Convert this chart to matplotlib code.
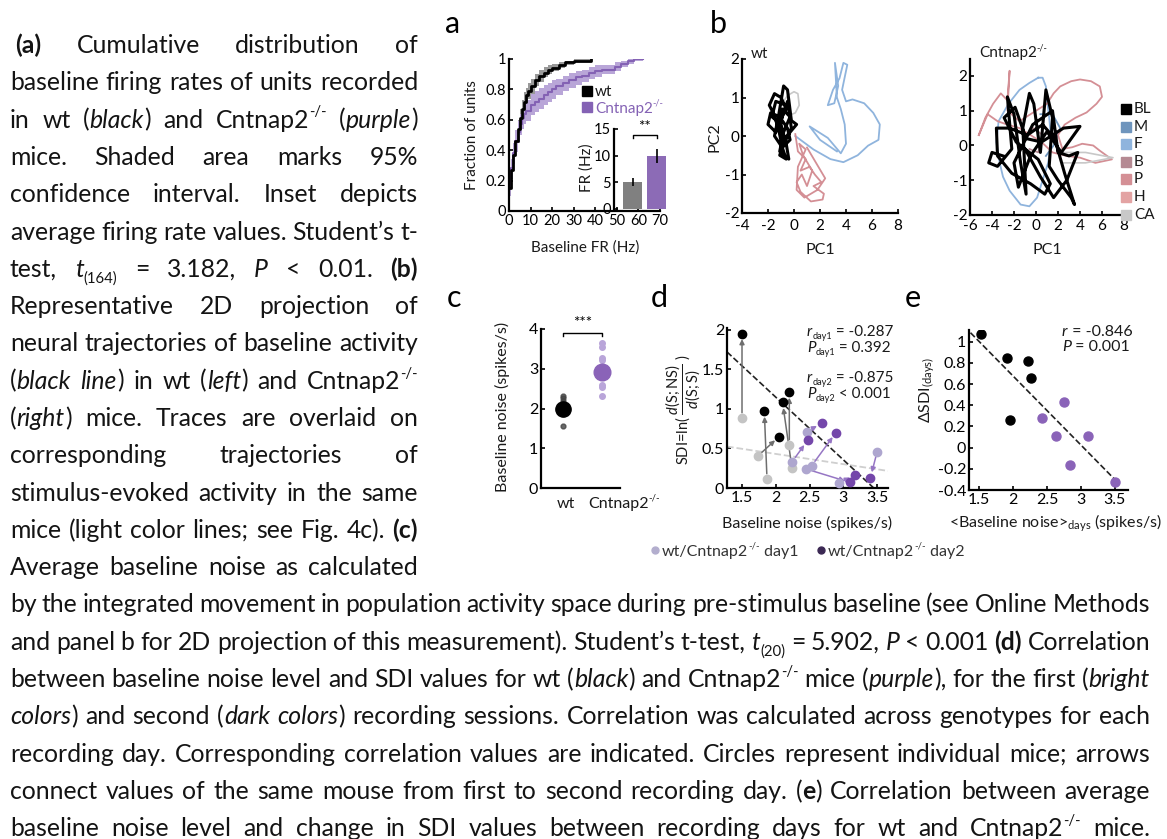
import re
import numpy as np
import matplotlib
matplotlib.use('Agg')
import matplotlib.pyplot as plt

plt.rcParams['font.family'] = ['Lato', 'DejaVu Sans']
plt.rcParams['axes.unicode_minus'] = False
plt.rcParams['mathtext.fontset'] = 'custom'
plt.rcParams['mathtext.rm'] = 'Lato'
plt.rcParams['mathtext.it'] = 'Lato:italic'
plt.rcParams['mathtext.bf'] = 'Lato:bold'

W, H = 1167, 839

#%% caption text (markup: {b:..} bold, {i:..} italic, {sup:..}, {sub:..})
col_lines = [
    "{b:(a)} Cumulative distribution of",
    "baseline firing rates of units recorded",
    "in wt ({i:black}) and Cntnap2{sup:-/-} ({i:purple})",
    "mice. Shaded area marks 95%",
    "confidence interval. Inset depicts",
    "average firing rate values. Student\u2019s t-",
    "test, {i:t}{sub:(164)} = 3.182, {i:P} < 0.01. {b:(b)}",
    "Representative 2D projection of",
    "neural trajectories of baseline activity",
    "({i:black line}) in wt ({i:left}) and Cntnap2{sup:-/-}",
    "({i:right}) mice. Traces are overlaid on",
    "corresponding trajectories of",
    "stimulus-evoked activity in the same",
    "mice (light color lines; see Fig. 4c). {b:(c)}",
    "Average baseline noise as calculated",
]
wide_lines = [
    "by the integrated movement in population activity space during pre-stimulus baseline (see Online Methods",
    "and panel b for 2D projection of this measurement). Student\u2019s t-test, {i:t}{sub:(20)} = 5.902, {i:P} < 0.001 {b:(d)} Correlation",
    "between baseline noise level and SDI values for wt ({i:black}) and Cntnap2{sup:-/-} mice ({i:purple}), for the first ({i:bright}",
    "{i:colors}) and second ({i:dark colors}) recording sessions. Correlation was calculated across genotypes for each",
    "recording day. Corresponding correlation values are indicated. Circles represent individual mice; arrows",
    "connect values of the same mouse from first to second recording day. ({b:e}) Correlation between average",
    "baseline noise level and change in SDI values between recording days for wt and Cntnap2{sup:-/-} mice.",
]

#%% panel a: cumulative distributions of baseline FR
wt_fr = [0, 1, 2, 3, 4, 5, 6, 7, 8, 9, 10, 12, 14, 16, 18, 20, 23, 26, 30, 34, 38]
wt_cdf = [0.15, 0.27, 0.37, 0.46, 0.54, 0.61, 0.67, 0.72, 0.76, 0.79, 0.82, 0.86, 0.89, 0.91, 0.93, 0.94, 0.96, 0.98, 0.99, 0.99, 1.0]
wt_lo = [0.10, 0.21, 0.31, 0.40, 0.48, 0.55, 0.61, 0.66, 0.71, 0.74, 0.77, 0.82, 0.85, 0.88, 0.90, 0.92, 0.94, 0.96, 0.98, 0.98, 0.99]
wt_hi = [0.20, 0.33, 0.43, 0.52, 0.60, 0.67, 0.73, 0.78, 0.81, 0.84, 0.87, 0.90, 0.93, 0.95, 0.96, 0.97, 0.98, 0.99, 1.0, 1.0, 1.0]
ko_fr = [0, 1, 2, 3, 4, 5, 6, 7, 8, 10, 12, 14, 16, 18, 20, 22, 25, 28, 31, 34, 37, 40, 43, 46, 49, 52, 55, 58, 62]
ko_cdf = [0.15, 0.28, 0.38, 0.46, 0.52, 0.57, 0.61, 0.64, 0.66, 0.70, 0.72, 0.74, 0.76, 0.78, 0.80, 0.82, 0.84, 0.86, 0.88, 0.89, 0.91, 0.92, 0.93, 0.93, 0.95, 0.97, 0.99, 1.0, 1.0]
ko_lo = [0.10, 0.22, 0.31, 0.39, 0.45, 0.50, 0.54, 0.57, 0.59, 0.63, 0.65, 0.67, 0.70, 0.72, 0.74, 0.76, 0.79, 0.81, 0.83, 0.85, 0.87, 0.88, 0.90, 0.90, 0.92, 0.95, 0.97, 0.99, 0.99]
ko_hi = [0.20, 0.34, 0.45, 0.53, 0.59, 0.64, 0.68, 0.71, 0.73, 0.77, 0.79, 0.81, 0.83, 0.84, 0.86, 0.87, 0.89, 0.91, 0.92, 0.93, 0.95, 0.96, 0.96, 0.96, 0.98, 0.99, 1.0, 1.0, 1.0]
fr_mean = [5.1, 10.0]
fr_err = [0.8, 1.3]

#%% panel b: 2D trajectories (PC1, PC2)
wt_bl = [(-1.2, 0.2), (-1.6, 0.6), (-1.9, 0.8), (-1.5, 1.1), (-1.0, 1.0), (-0.6, 0.7), (-1.1, 0.5), (-1.8, 0.6),
         (-2.0, 0.3), (-1.4, 0.1), (-0.9, 0.4), (-0.5, 0.2), (-0.3, -0.1), (-0.9, -0.3), (-1.5, 0.0), (-1.2, 0.5),
         (-0.8, 1.3), (-0.5, 1.2), (-0.2, 0.4), (0.2, 0.3), (-0.3, 0.1), (-0.8, -0.2), (-1.1, -0.5), (-0.6, -0.6),
         (-0.9, -0.3), (-1.2, 0.2), (-0.8, 0.6), (-0.5, 0.9), (-0.2, 0.2), (-0.7, -0.1), (-1.1, 0.3), (-0.6, 0.8),
         (-1.4, 0.9), (-1.7, 0.5), (-1.0, 0.3), (-0.6, -0.2), (-0.4, -0.6), (-1.1, -0.4), (-0.8, 0.1), (-0.3, 0.5),
         (-0.9, 0.7), (-1.3, 0.4)]
wt_ca = [(-0.9, 0.85), (-0.5, 1.05), (0.0, 1.15), (0.3, 1.1), (0.4, 0.8), (0.1, 0.6), (-0.3, 0.55)]
wt_f = [(0.1, 0.0), (1.5, -0.35), (2.8, -0.6), (3.8, -0.68), (4.9, -0.5), (5.7, -0.25), (6.5, -0.1), (6.6, 0.3),
        (6.1, 0.6), (5.4, 0.85), (4.5, 0.95), (4.0, 0.9), (3.7, 1.2), (4.1, 1.85), (3.8, 1.9), (3.5, 1.5),
        (3.0, 1.2), (2.6, 0.8), (3.1, 0.85), (3.4, 1.3), (3.15, 1.9), (3.3, 1.0), (3.6, 0.7), (3.9, 0.3),
        (4.0, -0.2), (3.6, -0.45), (2.6, -0.05), (1.2, 0.25), (2.0, -0.1), (3.3, -0.4)]
wt_p = [(0.1, 0.05), (0.3, -0.4), (0.9, -0.6), (0.5, -0.9), (1.2, -0.8), (1.6, -1.0), (2.1, -1.2), (1.5, -1.3),
        (2.3, -1.5), (2.2, -1.65), (1.3, -1.7), (0.5, -1.45), (0.2, -1.2), (0.6, -1.0), (1.0, -1.3), (1.4, -0.9),
        (0.7, -0.5), (0.4, -0.2), (0.9, -0.35), (0.3, -0.8), (0.2, -1.4), (0.8, -1.6), (1.8, -1.4), (2.4, -1.1),
        (1.7, -0.7), (1.0, -0.3)]
ko_bl = [(-3.0, -0.3), (-4.0, -0.2), (-4.3, -0.5), (-3.5, -0.6), (-2.2, -0.1), (-2.6, 1.4), (-2.0, 0.9), (-1.4, -0.5),
         (-0.9, -1.4), (-1.2, 0.5), (-0.6, 1.5), (-0.2, 1.2), (0.4, -0.2), (0.9, 1.6), (1.5, 0.8), (1.2, -0.6),
         (2.0, -1.0), (3.2, -1.5), (3.5, -1.7), (2.6, -0.8), (1.7, 0.2), (0.6, 0.6), (-0.8, 0.3), (-2.4, 0.5),
         (-3.6, 0.5), (-3.5, -0.3), (-2.2, -0.8), (-0.5, -1.1), (0.8, -1.4), (1.3, -1.1), (0.2, -0.4), (-1.8, 0.1),
         (-2.9, 0.8), (-1.9, 1.1), (-0.9, 0.2), (0.5, 0.1), (2.5, 0.5), (4.0, 0.55), (2.3, -0.2), (1.0, 0.4),
         (-0.5, -0.3), (-1.6, -1.2), (-2.0, -0.5), (-0.3, 0.6), (1.5, 1.0), (2.0, -0.2), (3.0, -0.3), (3.8, -0.2),
         (2.8, -1.0), (1.6, -1.5), (0.4, -0.9), (-1.0, -0.1)]
ko_f = [(0.2, 1.95), (-0.6, 1.8), (-1.5, 1.6), (-2.5, 1.2), (-3.4, 0.7), (-3.6, 0.1), (-3.3, -0.5), (-3.0, -0.9),
        (-2.4, -1.3), (-1.4, -1.7), (-0.6, -1.75), (0.1, -1.5), (0.5, -1.1), (1.1, -0.5), (1.4, 0.1), (1.2, 0.8),
        (1.0, 1.3), (0.9, 1.7), (0.6, 1.95), (0.2, 1.95)]
ko_m = [(0.4, 0.9), (1.5, 0.9), (2.2, 0.5), (1.6, 0.0), (0.9, -0.3)]
ko_p = [(-5.2, 0.3), (-4.6, 0.8), (-3.9, 1.2), (-3.2, 1.5), (-2.6, 1.3), (-2.4, 2.15), (-2.6, 1.0), (-1.5, 0.7),
        (-0.5, 0.9), (0.5, 1.1), (1.0, 1.2), (1.6, 1.5), (2.2, 1.7), (3.2, 1.85), (4.0, 1.9), (5.0, 1.85),
        (5.8, 1.7), (6.0, 1.4), (5.5, 1.2), (4.6, 0.95), (3.6, 0.8), (2.6, 0.6), (2.0, 0.3), (2.4, -0.1),
        (3.3, -0.05), (4.2, 0.05), (5.2, 0.0), (5.8, -0.15), (6.9, -0.4), (5.4, -0.5), (4.0, -0.35), (2.8, -0.3),
        (1.5, -0.2), (0.5, 0.1), (-0.5, 0.3), (-1.5, 0.5), (-2.6, 0.6), (-3.5, 0.7), (-4.4, 0.9), (-5.2, 0.3)]
ko_b = [(-1.0, 0.2), (-0.2, 0.5), (0.6, 0.3), (0.2, -0.2), (-0.6, -0.1)]
ko_ca = [(2.0, -0.2), (4.5, -0.2), (7.0, -0.35), (4.5, -0.5), (2.5, -0.5)]
traj_labels = ['BL', 'M', 'F', 'B', 'P', 'H', 'CA']
traj_colors = ['black', '#6f95bd', '#8fb4dd', '#b58a93', '#d48f95', '#e3a3a3', '#c8c8c8']

#%% panel c: baseline noise per mouse
c_wt_dots = [2.32, 2.27, 2.2, 2.1, 1.98, 1.9, 1.55]
c_ko_dots = [3.65, 3.55, 3.28, 3.22, 2.95, 2.6, 2.55, 2.32]
c_mean = [1.98, 2.92]
c_sem = [0.12, 0.14]

#%% panel d: SDI vs baseline noise, day1 -> day2
wt_d1_x = [1.50, 1.73, 1.87, 2.24, 2.20]
wt_d1_y = [0.88, 0.40, 0.11, 0.25, 0.54]
wt_d2_x = [1.50, 2.05, 1.83, 2.10, 2.20]
wt_d2_y = [1.95, 0.65, 0.97, 1.08, 1.21]
ko_d1_x = [2.24, 2.46, 2.53, 2.45, 2.93, 3.50]
ko_d1_y = [0.33, 0.71, 0.28, 0.24, 0.06, 0.46]
ko_d2_x = [2.47, 2.68, 2.89, 3.10, 3.17, 3.40]
ko_d2_y = [0.60, 0.82, 0.70, 0.07, 0.165, 0.13]

#%% panel e: change in SDI vs mean noise
e_wt_x = [1.52, 1.91, 2.22, 2.26, 1.95]
e_wt_y = [1.07, 0.85, 0.82, 0.66, 0.26]
e_ko_x = [2.42, 2.63, 2.75, 2.84, 3.10, 3.50]
e_ko_y = [0.28, 0.11, 0.43, -0.16, 0.11, -0.32]

PURPLE = '#8462b4'
TEXT_C = '#141414'
BODY_PT = 17.8

#%% figure
fig = plt.figure(figsize=(W / 100, H / 100), dpi=100)
rend = fig.canvas.get_renderer()
ov = fig.add_axes([0, 0, 1, 1], zorder=10)
ov.set_xlim(0, W)
ov.set_ylim(H, 0)
ov.axis('off')


def px_axes(x0, y0, x1, y1, lsize=11):
    ax = fig.add_axes([x0 / W, 1 - y1 / H, (x1 - x0) / W, (y1 - y0) / H])
    ax.patch.set_alpha(0)
    for s in ['top', 'right']:
        ax.spines[s].set_visible(False)
    for s in ['left', 'bottom']:
        ax.spines[s].set_linewidth(1.6)
    ax.tick_params(direction='in', length=3, width=1.2, labelsize=lsize, pad=2)
    return ax


def lab(x, y, s, size=11, rot=0, **kw):
    ov.text(x, y, s, fontsize=size, rotation=rot, ha=kw.pop('ha', 'center'), va=kw.pop('va', 'center'),
            rotation_mode='anchor', color=kw.pop('color', '#1a1a1a'), **kw)


TOKEN = re.compile(r'\{(\w+):([^}]*)\}')


def parse_segs(line):
    segs = []
    pos = 0
    for m in TOKEN.finditer(line):
        if m.start() > pos:
            segs.append((line[pos:m.start()], 'n'))
        segs.append((m.group(2), m.group(1)))
        pos = m.end()
    if pos < len(line):
        segs.append((line[pos:], 'n'))
    return segs


def parse(line):
    words = [[]]
    for txt, st in parse_segs(line):
        for k, p in enumerate(txt.split(' ')):
            if k > 0:
                words.append([])
            if p:
                words[-1].append((p, st))
    return [w for w in words if w]


def seg_art(s, st, yb, size, color):
    kw = dict(fontsize=size, color=color, va='baseline', ha='left')
    dy = 0.0
    if st == 'b':
        kw['fontweight'] = 'bold'
    if st == 'i':
        kw['fontstyle'] = 'italic'
    if st == 'sup':
        kw['fontsize'] = size * 0.6
        dy = -size * 0.45
    if st == 'sub':
        kw['fontsize'] = size * 0.6
        dy = size * 0.22
    t = ov.text(0, yb + dy * 100 / 72, s, **kw)
    return t, t.get_window_extent(rend).width


def draw_line(line, x0, x1, yb, size=BODY_PT):
    placed = []
    total = 0.0
    for w in parse(line):
        parts = []
        wx = 0.0
        for s, st in w:
            t, wd = seg_art(s, st, yb, size, TEXT_C)
            parts.append((t, wx))
            wx += wd
        placed.append((parts, wx))
        total += wx
    gap = (x1 - x0 - total) / max(len(placed) - 1, 1)
    x = x0
    for parts, wx in placed:
        for t, off in parts:
            t.set_x(x + off)
        x += wx + gap


def rich(x, yc, text, size=11, ha='left', color='#1a1a1a'):
    # short label with super/subscripts, yc = vertical centre of capitals
    yb = yc + 0.36 * size * 100 / 72
    parts = []
    wx = 0.0
    for s, st in parse_segs(text):
        t, wd = seg_art(s, st, yb, size, color)
        parts.append((t, wx))
        wx += wd
    x0 = x - wx / 2 if ha == 'center' else x
    for t, off in parts:
        t.set_x(x0 + off)


for i, line in enumerate(col_lines):
    draw_line(line, 15 if i == 0 else 10, 418, 53 + 37.3 * i)
for k, line in enumerate(wide_lines):
    draw_line(line, 10, 1150, 53 + 37.3 * (15 + k))

# panel letters
for letter, x, y in [('a', 445, 33), ('b', 710, 33), ('c', 447, 307), ('d', 651, 307), ('e', 905, 307)]:
    ov.text(x, y, letter, fontsize=22, ha='left', va='baseline', color='black')

#%% panel a
ax = px_axes(509, 59, 660, 211, lsize=10.5)
ax.fill_between(wt_fr, wt_lo, wt_hi, step='post', color='#999999', lw=0)
ax.fill_between(ko_fr, ko_lo, ko_hi, step='post', color='#b9a6d8', lw=0)
ax.plot(ko_fr, ko_cdf, drawstyle='steps-post', color=PURPLE, lw=1.5)
ax.plot(wt_fr, wt_cdf, drawstyle='steps-post', color='black', lw=2)
ax.set_xlim(0, 70)
ax.set_ylim(0, 1)
ax.set_xticks(range(0, 71, 10))
ax.set_yticks([0, 0.2, 0.4, 0.6, 0.8, 1])
ax.set_yticklabels(['0', '0.2', '0.4', '0.6', '0.8', '1'])
lab(472, 135, 'Fraction of units', size=11, rot=90)
lab(585, 248, 'Baseline FR (Hz)', size=11)
ov.plot([587], [91], 's', ms=6.5, color='black')
rich(595, 91, 'wt', size=11)
ov.plot([587], [107], 's', ms=6.5, color=PURPLE)
rich(595, 107, 'Cntnap2{sup:-/-}', size=11, color=PURPLE)

ins = px_axes(614, 129, 670, 209, lsize=10.5)
ins.spines['bottom'].set_visible(False)
ins.bar([1, 2], fr_mean, width=0.8, color=['#808080', '#8c6bb6'])
ins.errorbar([1, 2], fr_mean, yerr=fr_err, fmt='none', ecolor='black', elinewidth=1.2, capsize=0)
ins.set_xlim(0.23, 2.56)
ins.set_ylim(0, 15)
ins.set_xticks([])
ins.set_yticks([0, 5, 10, 15])
ins.plot([1, 1, 2, 2], [13.3, 13.9, 13.9, 13.3], color='black', lw=1, clip_on=False)
ins.text(1.5, 14.0, '**', ha='center', va='bottom', fontsize=11)
lab(587, 168, 'FR (Hz)', size=11, rot=90)

#%% panel b
def traj(ax, pts, color, lw):
    arr = np.array(pts)
    ax.plot(arr[:, 0], arr[:, 1], color=color, lw=lw, solid_joinstyle='round')


bl = px_axes(742, 59, 898, 213)
traj(bl, wt_ca, traj_colors[6], 1.2)
traj(bl, wt_f, traj_colors[2], 1.3)
traj(bl, wt_p, traj_colors[4], 1.3)
traj(bl, wt_bl, 'black', 2.2)
bl.set_xlim(-4, 8)
bl.set_ylim(-2, 2)
bl.set_xticks(range(-4, 9, 2))
bl.set_yticks([-2, -1, 0, 1, 2])
bl.tick_params(axis='x', pad=4)
rich(751, 52, 'wt', size=11)
lab(715, 137, 'PC2', size=11.5, rot=90)
lab(820, 250, 'PC1', size=11.5)

br = px_axes(970, 58.6, 1124, 215)
traj(br, ko_f, traj_colors[2], 1.3)
traj(br, ko_m, traj_colors[1], 1.3)
traj(br, ko_p, traj_colors[4], 1.3)
traj(br, ko_b, traj_colors[3], 1.2)
traj(br, ko_ca, traj_colors[6], 1.2)
traj(br, ko_bl, 'black', 2.2)
br.set_xlim(-6, 8)
br.set_ylim(-2, 2.5)
br.set_xticks(range(-6, 9, 2))
br.set_yticks([-2, -1, 0, 1, 2])
br.tick_params(axis='x', pad=3)
rich(979, 52, 'Cntnap2{sup:-/-}', size=11)
lab(1047, 250, 'PC1', size=11.5)
for k, (name, col) in enumerate(zip(traj_labels, traj_colors)):
    yy = 109 + 17.6 * k
    ov.plot([1126], [yy], 's', ms=7, color=col)
    lab(1134, yy, name, size=11, ha='left')

#%% panel c
cx = px_axes(541, 329, 620, 488, lsize=11.5)
cx.plot([1] * len(c_wt_dots), c_wt_dots, 'o', ms=3.5, color='#444444', alpha=0.8)
cx.plot([2] * len(c_ko_dots), c_ko_dots, 'o', ms=4, color='#b9a5d9')
cx.errorbar([1], [c_mean[0]], yerr=[c_sem[0]], fmt='o', ms=11, color='black', elinewidth=1.2, capsize=0)
cx.errorbar([2], [c_mean[1]], yerr=[c_sem[1]], fmt='o', ms=12, color='#8a63b8', elinewidth=1.2, capsize=0)
cx.set_xlim(0.44, 2.46)
cx.set_ylim(0, 4)
cx.set_yticks([0, 1, 2, 3, 4])
cx.set_xticks([])
rich(566, 502, 'wt', size=11.5, ha='center')
rich(588, 502, 'Cntnap2{sup:-/-}', size=11.5)
cx.plot([1, 1, 2, 2], [3.83, 3.91, 3.91, 3.83], color='black', lw=1, clip_on=False)
cx.text(1.5, 3.98, '***', ha='center', va='bottom', fontsize=11)
lab(502, 407, 'Baseline noise (spikes/s)', size=11.5, rot=90)

#%% panel d
dx = px_axes(727, 328, 888, 488, lsize=11.5)
x_d1 = np.array(wt_d1_x + ko_d1_x)
y_d1 = np.array(wt_d1_y + ko_d1_y)
x_d2 = np.array(wt_d2_x + ko_d2_x)
y_d2 = np.array(wt_d2_y + ko_d2_y)
f1 = np.polyfit(x_d1, y_d1, 1)
f2 = np.polyfit(x_d2, y_d2, 1)
xs1 = np.array([1.278, 3.66])
xs2 = np.array([1.278, 3.5])
dx.plot(xs1, np.polyval(f1, xs1), '--', color='#cfcfcf', lw=1.3)
dx.plot(xs2, np.polyval(f2, xs2), '--', color='#222222', lw=1.2)
for a0, b0, a1, b1 in zip(wt_d1_x, wt_d1_y, wt_d2_x, wt_d2_y):
    dx.annotate('', xy=(a1, b1), xytext=(a0, b0),
                arrowprops=dict(arrowstyle='-|>', color='#6e6e6e', lw=1.1, mutation_scale=7, shrinkA=4, shrinkB=4))
for a0, b0, a1, b1 in zip(ko_d1_x, ko_d1_y, ko_d2_x, ko_d2_y):
    dx.annotate('', xy=(a1, b1), xytext=(a0, b0),
                arrowprops=dict(arrowstyle='-|>', color='#9676c4', lw=1.1, mutation_scale=7, shrinkA=4, shrinkB=4))
dx.plot(wt_d1_x, wt_d1_y, 'o', ms=6, color='#c4c4c4', zorder=3)
dx.plot(ko_d1_x, ko_d1_y, 'o', ms=6, color='#aea6cf', zorder=3)
dx.plot(wt_d2_x, wt_d2_y, 'o', ms=6, color='black', zorder=3)
dx.plot(ko_d2_x, ko_d2_y, 'o', ms=6, color='#7447aa', zorder=3)
dx.set_xlim(1.278, 3.66)
dx.set_ylim(0, 2.02)
dx.set_xticks([1.5, 2, 2.5, 3, 3.5])
dx.set_xticklabels(['1.5', '2', '2.5', '3', '3.5'])
dx.set_yticks([0, 0.5, 1, 1.5, 2])
dx.set_yticklabels(['0', '0.5', '1', '1.5', '2'])
rich(807, 330, '{i:r}{sub:day1} = -0.287', size=11)
rich(807, 346, '{i:P}{sub:day1} = 0.392', size=11)
rich(807, 376, '{i:r}{sub:day2} = -0.875', size=11)
rich(807, 392, '{i:P}{sub:day2} < 0.001', size=11)
lab(683, 410, r'SDI=ln( $\dfrac{d\mathrm{(S;NS)}}{d\mathrm{(S;S)}}$ )', size=10.5, rot=90)
lab(807, 523, 'Baseline noise (spikes/s)', size=11.5)
ov.plot([655], [550], 'o', ms=5, color='#b3aece')
rich(662, 550, 'wt/Cntnap2{sup:-/-} day1', size=11.5, color='#333333')
ov.plot([821], [550], 'o', ms=5, color='#3b2853')
rich(828, 550, 'wt/Cntnap2{sup:-/-} day2', size=11.5, color='#333333')

#%% panel e
ex = px_axes(969, 330, 1128, 490, lsize=11.5)
xe = np.array(e_wt_x + e_ko_x)
ye = np.array(e_wt_y + e_ko_y)
fe = np.polyfit(xe, ye, 1)
xs_e = np.array([1.37, 3.5])
ex.plot(xs_e, np.polyval(fe, xs_e), '--', color='#222222', lw=1.2)
ex.plot(e_wt_x, e_wt_y, 'o', ms=6.5, color='black')
ex.plot(e_ko_x, e_ko_y, 'o', ms=6.5, color='#8a63b8')
ex.set_xlim(1.348, 3.696)
ex.set_ylim(-0.4, 1.11)
ex.set_xticks([1.5, 2, 2.5, 3, 3.5])
ex.set_xticklabels(['1.5', '2', '2.5', '3', '3.5'])
ex.set_yticks([-0.4, -0.2, 0, 0.2, 0.4, 0.6, 0.8, 1])
ex.set_yticklabels(['-0.4', '-0.2', '0', '0.2', '0.4', '0.6', '0.8', '1'])
rich(1062, 330, '{i:r} = -0.846', size=11.5)
rich(1062, 345, '{i:P} = 0.001', size=11.5)
lab(927, 390, r'$\Delta$SDI$_{\mathrm{(days)}}$', size=11.5, rot=90)
lab(1055, 523, r'<Baseline noise>$_{\mathrm{days}}$ (spikes/s)', size=11.5)

fig.savefig('out.png', dpi=100)
